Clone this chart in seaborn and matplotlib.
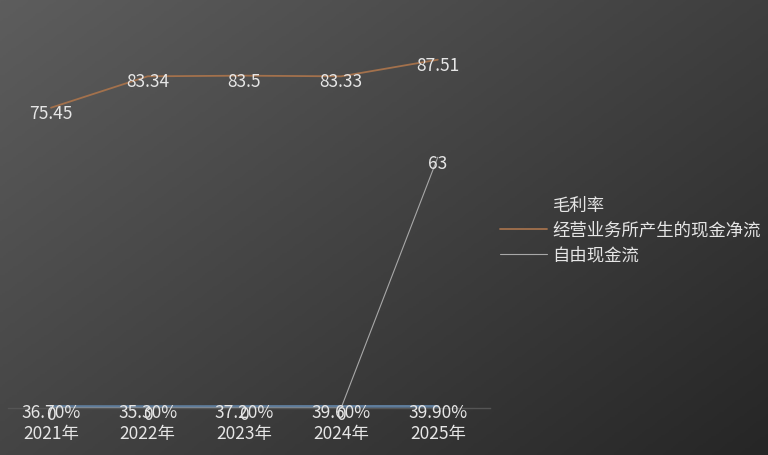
import numpy as np
import pandas as pd
import matplotlib
matplotlib.use("Agg")
import matplotlib.pyplot as plt
import seaborn as sns

years = ["2021年", "2022年", "2023年", "2024年", "2025年"]
gross_margin = [0.367, 0.353, 0.372, 0.396, 0.399]
gross_margin_labels = ["36.70%", "35.30%", "37.20%", "39.60%", "39.90%"]
op_cash_flow = [75.45, 83.34, 83.5, 83.33, 87.51]
free_cash_flow = [0, 0, 0, 0, 63]

SERIES = [
    ("毛利率", gross_margin, "#5f7d9c", 2.0),
    ("经营业务所产生的现金净流", op_cash_flow, "#a3714c", 1.3),
    ("自由现金流", free_cash_flow, "#a8a8a8", 0.8),
]
FS = 12.5
TXT = "#e6e6e6"

sns.set_theme(style="white")
plt.rcParams["font.family"] = ["Noto Sans CJK SC", "DejaVu Sans"]

fig = plt.figure(figsize=(7.68, 4.55), dpi=100)

# diagonal gradient background
bg = fig.add_axes([0, 0, 1, 1], zorder=-10)
gx, gy = np.meshgrid(np.linspace(0, 1, 300), np.linspace(0, 1, 200))
grad = (gx * 0.55 + gy * 0.45)
bg.imshow(grad, cmap=matplotlib.colors.LinearSegmentedColormap.from_list(
    "bgc", ["#5d5d5d", "#262626"]), aspect="auto", extent=[0, 1, 0, 1],
    origin="upper")
bg.axis("off")

ax = fig.add_axes([8 / 768, (455 - 408) / 455, (490 - 8) / 768, (408 - 10) / 455])
ax.patch.set_alpha(0)

rows = []
for name, vals, _, _ in SERIES:
    for i, v in enumerate(vals):
        rows.append({"year": years[i], "x": i, "value": v, "series": name})
df = pd.DataFrame(rows)

for name, vals, col, lw in SERIES:
    sub = df[df["series"] == name]
    sns.lineplot(data=sub, x="x", y="value", ax=ax, color=col, linewidth=lw,
                 label=name, legend=False)

# data labels
for i, v in enumerate(op_cash_flow):
    ax.text(i, v - 1.5, f"{v:g}", ha="center", va="center",
            color=TXT, fontsize=FS)
for i, v in enumerate(free_cash_flow):
    ax.text(i, v - 1.7 if v else -1.8, f"{v:g}", ha="center", va="center",
            color=TXT, fontsize=FS)
for i, lab in enumerate(gross_margin_labels):
    ax.text(i, -1.3, lab, ha="center", va="center",
            color=TXT, fontsize=FS)

ax.set_xlim(-0.445, 4.54)
ax.set_ylim(0, 100)
ax.set_xticks(range(len(years)))
ax.set_xticklabels(years, color=TXT, fontsize=FS)
ax.tick_params(axis="x", length=0, pad=12)
ax.set_yticks([])
ax.set_xlabel("")
ax.set_ylabel("")
for s in ["top", "right", "left"]:
    ax.spines[s].set_visible(False)
ax.spines["bottom"].set_color("#555555")
ax.spines["bottom"].set_linewidth(1)

leg = fig.legend(handles=[
    matplotlib.lines.Line2D([], [], color="none"),
    matplotlib.lines.Line2D([], [], color=SERIES[1][2], linewidth=1.3),
    matplotlib.lines.Line2D([], [], color=SERIES[2][2], linewidth=0.8),
], labels=[s[0] for s in SERIES], loc="upper left",
    bbox_to_anchor=(484 / 768, 1 - 181 / 455), frameon=False,
    fontsize=FS, labelcolor=TXT, handlelength=2.75,
    handletextpad=0.3, labelspacing=0.4)

plt.savefig("out.png", dpi=100)
